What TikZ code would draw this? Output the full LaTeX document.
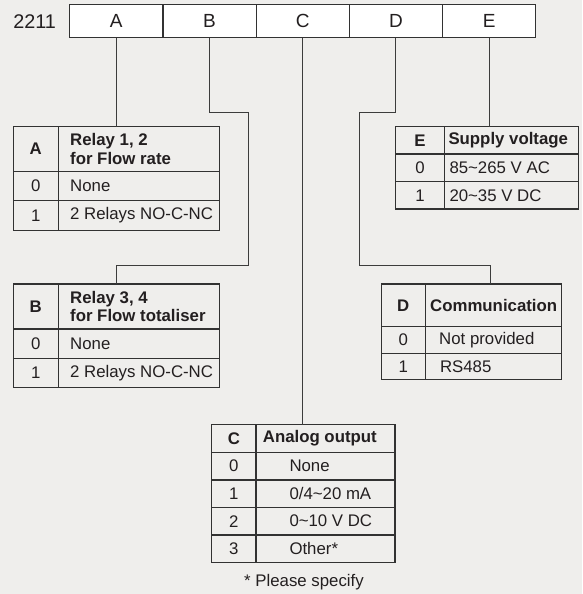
\documentclass[tikz,border=0pt]{standalone}
\usepackage{fontspec}
\setmainfont{Liberation Sans}
\definecolor{bg}{RGB}{239,238,236}
\definecolor{linec}{RGB}{50,50,50}
\definecolor{connc}{RGB}{60,60,60}
\definecolor{txtc}{RGB}{35,31,32}
\newcommand\trow[9]{%
  \node[cellbox, minimum width={#3-#2}, minimum height={#6-#5}] (#1k) at (#2,#5) {#7};
  \node[cellbox, minimum width={#4-#3}, minimum height={#6-#5}] (#1t) at (#3,#5) {};
  \node[celltext] (#1x) at ([xshift=#9pt]#1t.west) {#8};
}
\begin{document}
\begin{tikzpicture}[x=1pt,y=-1pt,
  every node/.style={text=txtc, font=\fontsize{16.8}{18.3}\selectfont},
  cellbox/.style={draw=linec, line width=1.2pt, inner sep=0pt, outer sep=0pt, anchor=north west, align=center},
  celltext/.style={anchor=west, inner sep=0pt, align=left},
  topcell/.style={draw=linec, line width=1.2pt, fill=white, inner sep=0pt, outer sep=0pt, anchor=north west,
    minimum width=93.2, minimum height=33.4, font=\fontsize{19}{22}\selectfont},
  conn/.style={draw=connc, line width=0.9pt}
]
\fill[bg] (0,0) rectangle (582,594);
\useasboundingbox (0,0) rectangle (582,594);

% code bar
\node[font=\fontsize{19.8}{22}\selectfont] (code) at (34.7,21.2) {2211};
\node[topcell] (cA) at (69.7,4.3) {A};
\node[topcell] (cB) at (162.9,4.3) {B};
\node[topcell] (cC) at (256.1,4.3) {C};
\node[topcell] (cD) at (349.3,4.3) {D};
\node[topcell] (cE) at (442.5,4.3) {E};

% table A
\trow{Ah}{13.3}{58.3}{219.7}{126.7}{171.3}{\bfseries A}{\bfseries Relay 1, 2\\\bfseries for Flow rate}{11.7}
\trow{Aa}{13.3}{58.3}{219.7}{171.3}{200.7}{0}{None}{11.7}
\trow{Ab}{13.3}{58.3}{219.7}{200.7}{230.3}{1}{2 Relays NO-C-NC}{11.7}

% table B
\trow{Bh}{13.3}{58.3}{219.7}{284}{329}{\bfseries B}{\bfseries Relay 3, 4\\\bfseries for Flow totaliser}{11.7}
\trow{Ba}{13.3}{58.3}{219.7}{329}{358.3}{0}{None}{11.7}
\trow{Bb}{13.3}{58.3}{219.7}{358.3}{387.3}{1}{2 Relays NO-C-NC}{11.7}

% table E
\trow{Eh}{395.7}{444.3}{578.7}{126.7}{154}{\bfseries E}{\bfseries Supply voltage}{4}
\trow{Ea}{395.7}{444.3}{578.7}{154}{181.7}{0}{85\textasciitilde 265 V AC}{5}
\trow{Eb}{395.7}{444.3}{578.7}{181.7}{209}{1}{20\textasciitilde 35 V DC}{5}

% table D
\trow{Dh}{381.3}{425.3}{561.3}{284}{326.7}{\bfseries D}{\bfseries Communication}{4.7}
\trow{Da}{381.3}{425.3}{561.3}{326.7}{353.3}{0}{Not provided}{13.7}
\trow{Db}{381.3}{425.3}{561.3}{353.3}{379.7}{1}{RS485}{14.5}

% table C
\trow{Ch}{211.7}{256}{395}{424.7}{452.3}{\bfseries C}{\bfseries Analog output}{6.7}
\trow{Ca}{211.7}{256}{395}{452.3}{480}{0}{None}{33.3}
\trow{Cb}{211.7}{256}{395}{480}{507.3}{1}{0/4\textasciitilde 20 mA}{33.3}
\trow{Cc}{211.7}{256}{395}{507.3}{535}{2}{0\textasciitilde 10 V DC}{33.3}
\trow{Cd}{211.7}{256}{395}{535}{562.3}{3}{Other*}{33.3}

\node (note) at (304,582) {* Please specify};

% connectors
\coordinate (bj1) at (248.3,112.3);
\coordinate (bj2) at (116.3,265.7);
\coordinate (dj1) at (359.3,112.3);
\coordinate (dj2) at (490.7,265.7);
\draw[conn] (cA.south) -- (cA.south |- Aht.north);
\draw[conn] (cB.south) |- (bj1) |- (bj2) -- (bj2 |- Bht.north);
\draw[conn] (cC.south) -- (cC.south |- Cht.north);
\draw[conn] (cD.south) |- (dj1) |- (dj2) -- (dj2 |- Dht.north);
\draw[conn] (cE.south) -- (cE.south |- Eht.north);
\end{tikzpicture}
\end{document}
